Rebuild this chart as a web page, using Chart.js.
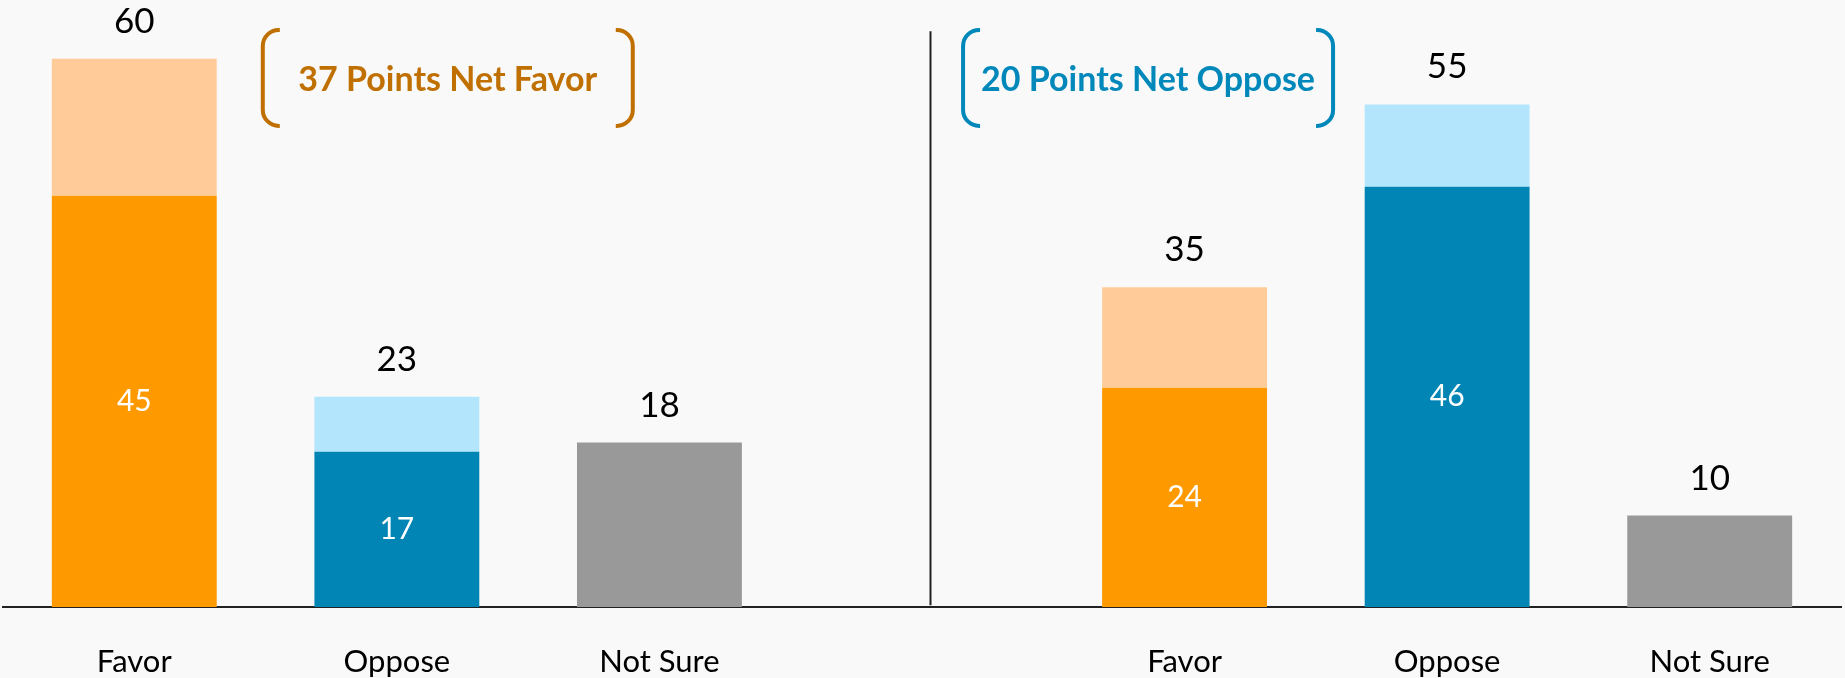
<!DOCTYPE html>
<html>
<head>
<meta charset="utf-8">
<script src="https://cdn.jsdelivr.net/npm/chart.js@4.4.1/dist/chart.umd.min.js"></script>
<style>
  html, body { margin: 0; padding: 0; background: #f9f9f9; }
  #wrap { width: 1845px; height: 678px; }
</style>
</head>
<body>
<div id="wrap"><canvas id="chart" width="1845" height="678"></canvas></div>
<script>
// categories (the empty one is the gap between the two groups)
const categories = ['Favor', 'Oppose', 'Not Sure', '', 'Favor', 'Oppose', 'Not Sure'];
// strongly favor / oppose part of each bar
const strongValues = [45, 17, 18, null, 24, 46, 10];
// "somewhat" part stacked on top
const softValues = [15, 6, 0, null, 11, 9, 0];

const strongColors = ['#ff9900', '#0085b5', '#999999', null, '#ff9900', '#0085b5', '#999999'];
const softColors = ['#ffcc99', '#b3e5fc', '#999999', null, '#ffcc99', '#b3e5fc', '#999999'];

// bracketed notes, placed in axis units (category index, value)
const notes = [
  { text: '37 Points Net Favor', x: 1.194, y: 57.9, color: '#c07000' },
  { text: '20 Points Net Oppose', x: 3.861, y: 57.9, color: '#0088bb' }
];
const dividerAt = 3.03;

function drawBracket(ctx, x, yTop, yBot, dir, color) {
  const arm = 17, r = 16;
  ctx.strokeStyle = color;
  ctx.lineWidth = 4;
  ctx.beginPath();
  ctx.moveTo(x + dir * arm, yTop);
  ctx.arcTo(x, yTop, x, yBot, r);
  ctx.arcTo(x, yBot, x + dir * arm, yBot, r);
  ctx.lineTo(x + dir * arm, yBot);
  ctx.stroke();
}

const labelPlugin = {
  id: 'barLabels',
  beforeDraw(chart) {
    const ctx = chart.ctx;
    ctx.save();
    ctx.fillStyle = '#f9f9f9';
    ctx.fillRect(0, 0, chart.width, chart.height);
    ctx.restore();
  },
  afterDatasetsDraw(chart) {
    const ctx = chart.ctx;
    const xs = chart.scales.x, ys = chart.scales.y;
    const strongMeta = chart.getDatasetMeta(0);
    const softMeta = chart.getDatasetMeta(1);
    ctx.save();
    ctx.textAlign = 'center';

    categories.forEach((c, i) => {
      if (strongValues[i] == null) return;
      const total = strongValues[i] + softValues[i];
      const topBar = softValues[i] > 0 ? softMeta.data[i] : strongMeta.data[i];
      ctx.fillStyle = '#000';
      ctx.font = '35px Lato';
      ctx.textBaseline = 'alphabetic';
      ctx.fillText(String(total), topBar.x, topBar.y - 26);

      if (softValues[i] > 0) {
        const b = strongMeta.data[i];
        ctx.fillStyle = '#fff';
        ctx.font = '30px Lato';
        ctx.textBaseline = 'middle';
        ctx.fillText(String(strongValues[i]), b.x, (b.y + b.base) / 2);
      }
    });

    // divider between the two groups
    const dx = Math.round(xs.getPixelForValue(dividerAt)) + 0.5;
    ctx.strokeStyle = '#222';
    ctx.lineWidth = 2;
    ctx.beginPath();
    ctx.moveTo(dx, ys.getPixelForValue(63));
    ctx.lineTo(dx, ys.getPixelForValue(0.2));
    ctx.stroke();

    // bracketed notes
    notes.forEach(n => {
      const cx = xs.getPixelForValue(n.x);
      const cy = ys.getPixelForValue(n.y);
      drawBracket(ctx, cx - 185, cy - 48, cy + 48, 1, n.color);
      drawBracket(ctx, cx + 185, cy - 48, cy + 48, -1, n.color);
      ctx.fillStyle = n.color;
      ctx.font = 'bold 34px Lato';
      ctx.textBaseline = 'alphabetic';
      ctx.fillText(n.text, cx, cy + 13);
    });
    ctx.restore();
  }
};

new Chart(document.getElementById('chart'), {
  type: 'bar',
  data: {
    labels: categories,
    datasets: [
      { label: 'Strong', data: strongValues, backgroundColor: strongColors },
      { label: 'Soft', data: softValues, backgroundColor: softColors }
    ]
  },
  options: {
    responsive: false,
    animation: false,
    datasets: { bar: { barPercentage: 0.628, categoryPercentage: 1.0 } },
    layout: { padding: { top: 13, left: 3, right: 4, bottom: 0 } },
    plugins: { legend: { display: false }, tooltip: { enabled: false } },
    scales: {
      x: {
        stacked: true,
        grid: { display: false, drawTicks: false },
        border: { display: true, color: '#222', width: 2 },
        ticks: {
          color: '#000',
          font: { family: 'Lato', size: 31 },
          padding: 36,
          maxRotation: 0,
          minRotation: 0,
          autoSkip: false
        },
        // padding is counted twice by Chart.js; keep the axis band tight
        afterFit(scale) { scale.height = 71; }
      },
      y: {
        stacked: true,
        display: false,
        min: 0,
        max: 65
      }
    }
  },
  plugins: [labelPlugin]
});
</script>
</body>
</html>
